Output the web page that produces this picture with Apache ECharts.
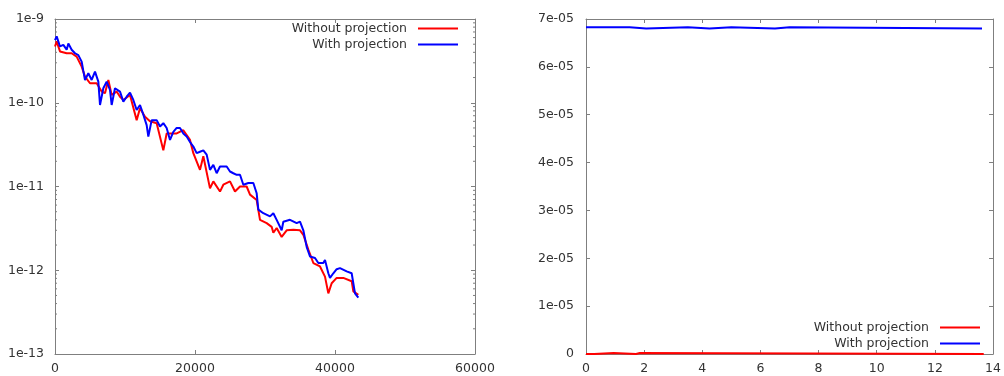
<!DOCTYPE html>
<html>
<head>
<meta charset="utf-8">
<script src="https://cdn.jsdelivr.net/npm/echarts@6/dist/echarts.min.js"></script>
<style>
html,body{margin:0;padding:0;background:#fff;}
#c{width:1004px;height:376px;}
</style>
</head>
<body>
<div id="c"></div>
<script>
// ---- Left panel: residual vs iteration (log scale) ----
const leftWithoutX = [0,238,714,1667,2381,3095,3810,4286,5000,5952,6667,7143,7619,8095,8810,9286,9762,10714,11667,12143,12857,13571,14524,15476,15952,16667,17381,18333,19286,19762,20714,21190,22143,22619,23571,24048,25000,25714,26429,27381,27857,28810,29286,30238,30952,31190,31667,32381,33095,34048,35000,35476,36190,36905,37857,38571,39048,39524,40238,41190,42381,42619,43333];
const leftWithoutY = [4.7e-10,5.4e-10,4.1e-10,3.9e-10,3.9e-10,3.55e-10,2.7e-10,2.05e-10,1.71e-10,1.71e-10,1.36e-10,1.3e-10,1.87e-10,1.24e-10,1.36e-10,1.18e-10,1.08e-10,1.24e-10,6.2e-11,8.6e-11,6.8e-11,6.0e-11,5.7e-11,2.7e-11,4.3e-11,4.3e-11,4.3e-11,4.7e-11,3.6e-11,2.5e-11,1.58e-11,2.3e-11,9.5e-12,1.15e-11,8.7e-12,1.05e-11,1.15e-11,8.7e-12,1.0e-11,1.0e-11,8.0e-12,6.9e-12,4.0e-12,3.65e-12,3.3e-12,2.8e-12,3.2e-12,2.5e-12,3.0e-12,3.05e-12,3.0e-12,2.65e-12,1.76e-12,1.22e-12,1.11e-12,8.4e-13,5.3e-13,7.0e-13,8.1e-13,8.1e-13,7.4e-13,5.6e-13,5.1e-13];

const leftWithX = [0,238,714,1190,1667,1905,2381,2857,3333,3810,4048,4286,4762,5238,5714,6190,6429,6905,7381,7857,8095,8571,9286,9762,10238,10714,11190,11667,12143,12619,13095,13333,13810,14524,15000,15476,15952,16429,16905,17381,17857,18333,18810,19286,19762,20238,20714,21190,21667,22143,22619,23095,23571,24524,25000,25476,25952,26429,26905,27619,28333,28810,29048,29762,30714,31190,31667,32381,32619,33571,34524,35000,35476,35952,36429,37143,37619,38333,38571,39048,39286,39762,40238,40714,41667,42381,42857,43333];
const leftWithY = [5.6e-10,6.2e-10,4.7e-10,4.9e-10,4.3e-10,5.1e-10,4.3e-10,3.9e-10,3.7e-10,3.1e-10,2.4e-10,1.87e-10,2.25e-10,1.87e-10,2.35e-10,1.79e-10,9.4e-11,1.49e-10,1.79e-10,1.42e-10,9.4e-11,1.49e-10,1.36e-10,1.03e-10,1.18e-10,1.32e-10,1.08e-10,8.2e-11,9.4e-11,7.2e-11,5.4e-11,3.95e-11,6.2e-11,6.2e-11,5.2e-11,5.7e-11,5.0e-11,3.6e-11,4.5e-11,5.0e-11,5.0e-11,4.3e-11,3.95e-11,3.4e-11,3.0e-11,2.5e-11,2.6e-11,2.7e-11,2.4e-11,1.58e-11,1.81e-11,1.44e-11,1.73e-11,1.73e-11,1.51e-11,1.44e-11,1.38e-11,1.38e-11,1.05e-11,1.1e-11,1.1e-11,8.3e-12,5.3e-12,4.8e-12,4.4e-12,4.8e-12,4.0e-12,3.0e-12,3.8e-12,4.0e-12,3.65e-12,3.8e-12,3.0e-12,1.9e-12,1.46e-12,1.4e-12,1.22e-12,1.22e-12,1.33e-12,9.2e-13,8.1e-13,9.2e-13,1.03e-12,1.06e-12,9.7e-13,9.2e-13,5.3e-13,4.7e-13];

// ---- Right panel: step-like values ----
const rightWithoutX = [0,0.28,0.95,1.72,1.85,13.68];
const rightWithoutY = [0,2e-7,0,2e-7,0,0];
const rightWithX = [0,1.5,2.07,3.5,4.25,5.0,6.5,7.0,13.62];
const rightWithY = [6.83e-5,6.80e-5,6.83e-5,6.80e-5,6.83e-5,6.80e-5,6.83e-5,6.80e-5,6.80e-5];

// axis ranges / tick labels
const leftXMin = 0, leftXMax = 60000, leftXStep = 20000;
const leftYMin = 1e-13, leftYMax = 1e-9;
const rightXMin = 0, rightXMax = 14, rightXStep = 2;
const rightYMin = 0, rightYMax = 7e-5, rightYStep = 1e-5;
const seriesNames = ['Without projection', 'With projection'];

// minor log ticks (2..9 per decade)
const minorTicks = [];
for (let e = -13; e < -9; e++) {
  for (let m = 2; m <= 9; m++) minorTicks.push(m * Math.pow(10, e));
}

const zip = (xs, ys) => xs.map((x, i) => [x, ys[i]]);

const FONT = 'DejaVu Sans';
const TXT = '#333';
const FRAME = '#7f7f7f';

function axisCommon(extra) {
  return Object.assign({
    axisLine: {show: true, onZero: false, lineStyle: {color: FRAME, width: 1}},
    axisTick: {show: true, inside: true, length: 4, lineStyle: {color: FRAME}},
    splitLine: {show: false},
    axisLabel: {show: false}
  }, extra);
}
const lbl = (margin, fmt) => ({show: true, margin: margin, color: TXT, fontFamily: FONT, fontSize: 12.5, formatter: fmt});

const fmtPlain = v => String(v);
const fmtRight = v => {
  if (v === 0) return '0';
  let s = v.toExponential(0);
  return s.replace(/e-(\d)$/, 'e-0$1');
};
const fmtLog = v => {
  const e = Math.round(Math.log10(v));
  return '1e' + e;
};

function legendCfg(pos) {
  return Object.assign({
    data: seriesNames, orient: 'vertical', align: 'right',
    icon: 'rect', itemWidth: 40, itemHeight: 2, itemGap: 1, padding: 0,
    textStyle: {color: TXT, fontFamily: FONT, fontSize: 12.5, lineHeight: 15, padding: [0, 6, 0, 0]},
    selectedMode: false
  }, pos);
}

const option = {
  animation: false,
  backgroundColor: '#fff',
  textStyle: {fontFamily: FONT},
  grid: [
    {left: 55, top: 19, width: 420, height: 335},
    {left: 586, top: 19, width: 411, height: 335}
  ],
  legend: [
    legendCfg({right: 546, top: 21}),
    legendCfg({right: 24, top: 320})
  ],
  xAxis: [
    axisCommon({gridIndex: 0, type: 'value', position: 'bottom', min: leftXMin, max: leftXMax, interval: leftXStep, axisLabel: lbl(8, fmtPlain)}),
    axisCommon({gridIndex: 0, type: 'value', position: 'top', min: leftXMin, max: leftXMax, interval: leftXStep}),
    axisCommon({gridIndex: 1, type: 'value', position: 'bottom', min: rightXMin, max: rightXMax, interval: rightXStep, axisLabel: lbl(8, fmtPlain)}),
    axisCommon({gridIndex: 1, type: 'value', position: 'top', min: rightXMin, max: rightXMax, interval: rightXStep})
  ],
  yAxis: [
    axisCommon({gridIndex: 0, type: 'log', logBase: 10, position: 'left', min: leftYMin, max: leftYMax, axisLabel: lbl(11, fmtLog)}),
    axisCommon({gridIndex: 0, type: 'log', logBase: 10, position: 'right', min: leftYMin, max: leftYMax}),
    axisCommon({gridIndex: 1, type: 'value', position: 'left', min: rightYMin, max: rightYMax, interval: rightYStep, axisLabel: lbl(12, fmtRight)}),
    axisCommon({gridIndex: 1, type: 'value', position: 'right', min: rightYMin, max: rightYMax, interval: rightYStep})
  ],
  series: [
    {
      type: 'custom', xAxisIndex: 0, yAxisIndex: 0, silent: true, z: 1,
      data: minorTicks.map(v => [v]),
      renderItem: function (params, api) {
        const v = api.value(0);
        const pl = api.coord([leftXMin, v]);
        const pr = api.coord([leftXMax, v]);
        const st = {stroke: FRAME, lineWidth: 1};
        return {type: 'group', children: [
          {type: 'line', shape: {x1: pl[0], y1: pl[1], x2: pl[0] + 2, y2: pl[1]}, style: st},
          {type: 'line', shape: {x1: pr[0], y1: pr[1], x2: pr[0] - 2, y2: pr[1]}, style: st}
        ]};
      },
      encode: {y: 0}
    },
    {
      name: seriesNames[0], type: 'line', xAxisIndex: 0, yAxisIndex: 0,
      data: zip(leftWithoutX, leftWithoutY), symbol: 'none', color: '#ff0000',
      lineStyle: {color: '#ff0000', width: 2}
    },
    {
      name: seriesNames[1], type: 'line', xAxisIndex: 0, yAxisIndex: 0,
      data: zip(leftWithX, leftWithY), symbol: 'none', color: '#0000ff',
      lineStyle: {color: '#0000ff', width: 2}
    },
    {
      name: seriesNames[0], type: 'line', xAxisIndex: 2, yAxisIndex: 2, step: 'end',
      data: zip(rightWithoutX, rightWithoutY), symbol: 'none', color: '#ff0000',
      lineStyle: {color: '#ff0000', width: 2}, z: 3
    },
    {
      name: seriesNames[1], type: 'line', xAxisIndex: 2, yAxisIndex: 2, step: 'end',
      data: zip(rightWithX, rightWithY), symbol: 'none', color: '#0000ff',
      lineStyle: {color: '#0000ff', width: 2}
    }
  ]
};

const chart = echarts.init(document.getElementById('c'), null, {renderer: 'canvas'});
chart.setOption(option);
</script>
</body>
</html>
